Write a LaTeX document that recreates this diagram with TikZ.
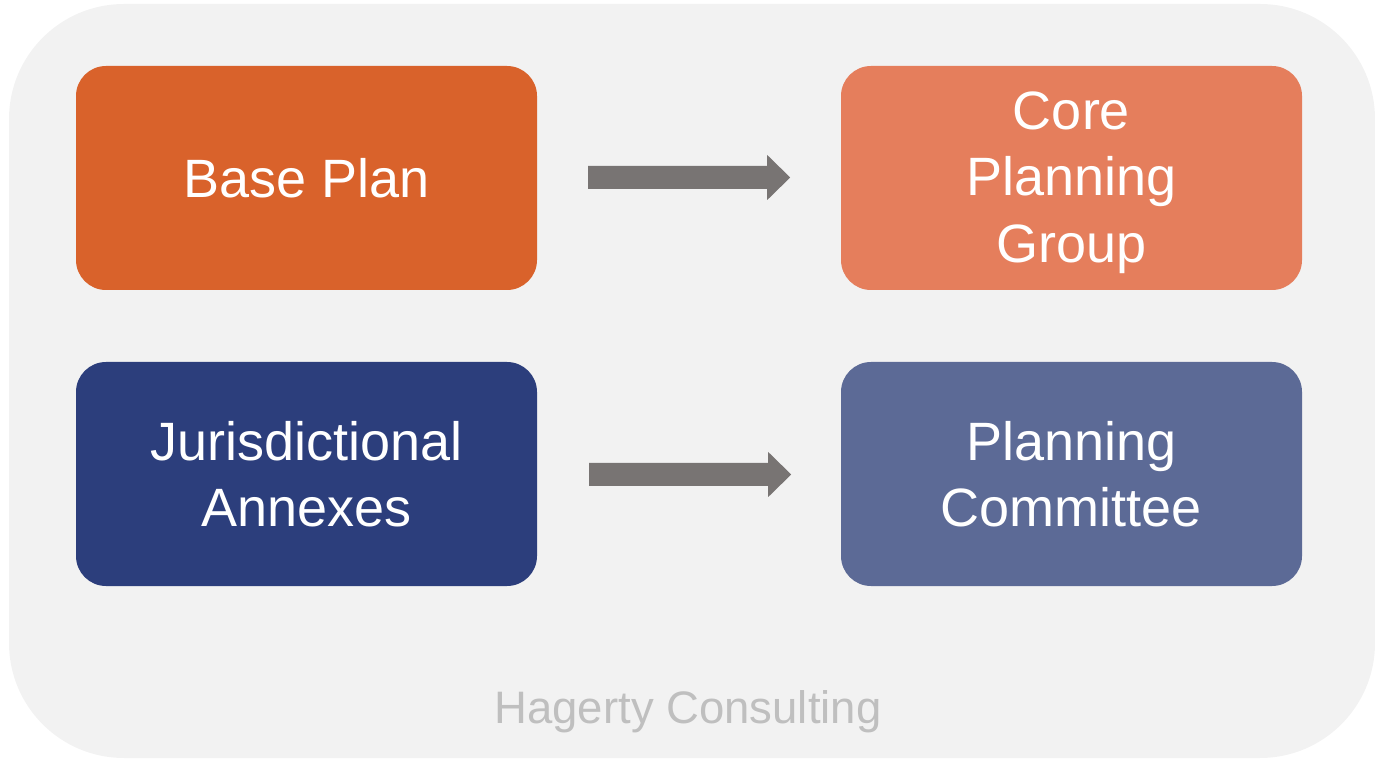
\documentclass[tikz,border=0pt]{standalone}
\usepackage{fontspec}
\setmainfont{Liberation Sans}
\definecolor{bgc}{HTML}{F2F2F2}
\definecolor{basec}{HTML}{D9622B}
\definecolor{corec}{HTML}{E57E5C}
\definecolor{jurc}{HTML}{2C3E7C}
\definecolor{pcc}{HTML}{5C6A96}
\definecolor{arrc}{HTML}{787473}
\definecolor{markc}{HTML}{BFBFBF}
\begin{document}
\begin{tikzpicture}[x=1pt,y=1pt,
  box/.style={rounded corners=30pt, minimum width=461pt, minimum height=224pt, inner sep=0pt},
  boxtext/.style={inner sep=0pt, text=white, align=center, font=\fontsize{54}{66.5}\selectfont},
  fatarrow/.style={fill=arrc, draw=none}]
\useasboundingbox (0,0) rectangle (1375,758);
\fill[bgc, rounded corners=115pt] (9,0) rectangle (1375,754);
\node[box, fill=basec] (base) at (306.5,580) {};
\node[box, fill=corec] (core) at (1071.5,580) {};
\node[box, fill=jurc] (jur) at (306.5,284) {};
\node[box, fill=pcc] (pc) at (1071.5,284) {};
\node[boxtext] (basetxt) at (306.5,580) {Base Plan};
\node[boxtext] (coretxt) at (1071.5,575.3) {Core\\Planning\\Group};
\node[boxtext] (jurtxt) at (306.5,284) {Jurisdictional\\Annexes};
\node[boxtext] (pctxt) at (1071.5,284) {Planning\\Committee};
\node[text=markc, inner sep=0pt, font=\fontsize{45.5}{55}\selectfont] (mark) at (688,46) {Hagerty Consulting};
% arrows
\fill[fatarrow] ([xshift=51pt,yshift=-11pt]base.east) -- ++(179,0) -- ++(0,-11) -- ++(23,22.5) -- ++(-23,22.5) -- ++(0,-11) -- ++(-179,0) -- cycle;
\fill[fatarrow] ([xshift=52pt,yshift=-12pt]jur.east) -- ++(179,0) -- ++(0,-11) -- ++(23,22.5) -- ++(-23,22.5) -- ++(0,-11) -- ++(-179,0) -- cycle;
\end{tikzpicture}
\end{document}
